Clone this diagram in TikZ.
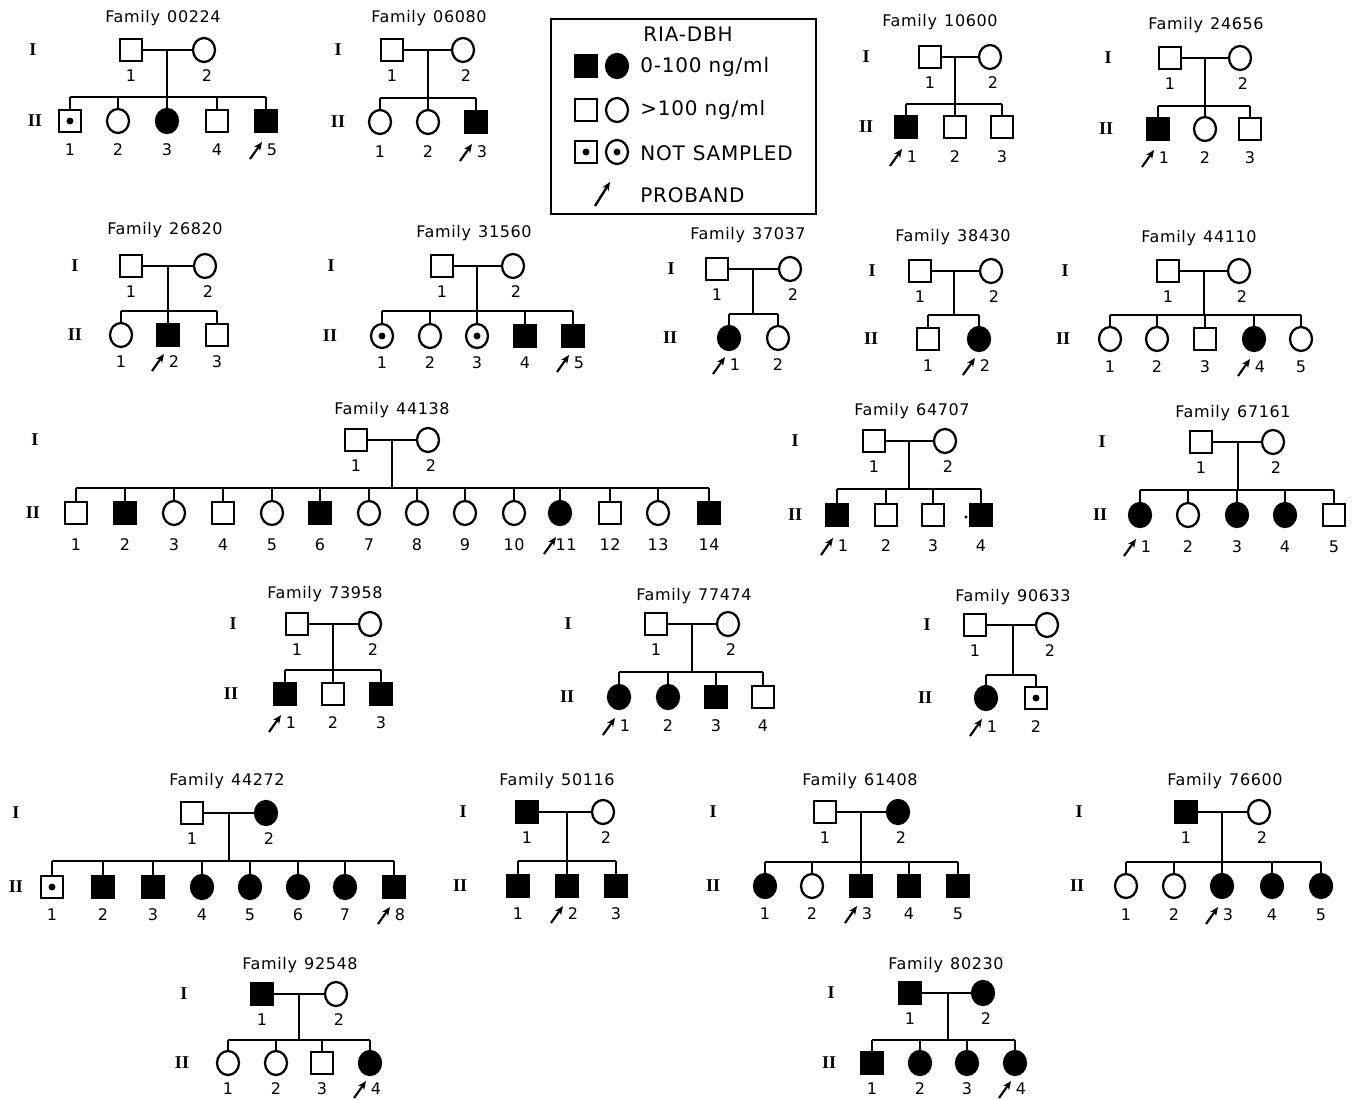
\documentclass[tikz,border=0pt]{standalone}
\usepackage{fontspec}
\setmainfont{DejaVu Sans}
\newfontfamily\labfont[LetterSpace=4]{DejaVu Sans}
\newfontfamily\romfont{Liberation Serif}
\usetikzlibrary{shapes.geometric,arrows.meta}

\tikzset{
  lw/.style={line width=1.7pt},
  sym/.style={draw, lw, inner sep=0pt, outer sep=0pt},
  sqO/.style={sym, rectangle, minimum width=16.5pt, minimum height=17pt},
  sqF/.style={sqO, fill=black},
  sqD/.style={sqO, path picture={\fill (path picture bounding box.center) circle (2.6pt);}},
  ciO/.style={sym, ellipse, minimum width=16.5pt, minimum height=18pt},
  ciF/.style={ciO, fill=black},
  ciD/.style={ciO, path picture={\fill (path picture bounding box.center) circle (2.6pt);}},
  conn/.style={lw},
  num/.style={font=\labfont\fontsize{12}{14}\selectfont, inner sep=0pt},
  ftitle/.style={font=\labfont\fontsize{12}{14}\selectfont, inner sep=0pt},
  gen/.style={font=\romfont\bfseries\fontsize{13.5}{14}\selectfont, inner sep=0pt},
  legtext/.style={font=\labfont\fontsize{15}{17}\selectfont, inner sep=0pt},
  prob/.style={line width=1.6pt, -{Stealth[length=6.5pt,width=5.5pt]}},
}

% #1 id, #2 family number, #3 title position, #4 label x, #5 parent y, #6 father x, #7 mother x, #8 father style, #9 mother style
\newcommand\parents[9]{%
  \node[ftitle] (#1t) at (#3) {Family\hspace{0.45em}#2};
  \node[gen] (#1gA) at (#4,#5) {I};
  \node[#8] (#1f) at (#6,#5) {};
  \node[#9] (#1m) at (#7,#5) {};
  \node[num] (#1fn) at (#6,#5+26) {1};
  \node[num] (#1mn) at (#7+3,#5+26) {2};
  \draw[conn] (#1f.east) -- (#1m.west);
}
% #1 id, #2 drop x, #3 parent y, #4 sibship y, #5 child y, #6 number y, #7 label x, #8 list x/style/proband
\newcommand\kids[8]{%
  \coordinate (#1top) at (#2,#3);
  \coordinate (#1sib) at (#2,#4);
  \draw[conn] (#1top) -- (#1sib);
  \node[gen] (#1gB) at (#7,#5) {II};
  \foreach \x/\s/\p [count=\i] in {#8} {
    \node[\s] (#1c\i) at (\x,#5) {};
    \draw[conn] (#1c\i |- #1sib) -- (#1c\i.north);
    \ifnum\p=1
      \node[num] (#1n\i) at (\x+6,#6) {\i};
      \draw[prob] (\x-16,#6+9) -- (\x-4,#6-8);
    \else
      \node[num] (#1n\i) at (\x,#6) {\i};
    \fi
    \xdef\lastkid{\i}
  }
  \draw[conn] (#1c1 |- #1sib) -- (#1c\lastkid |- #1sib);
}

\begin{document}
\begin{tikzpicture}[x=0.75pt,y=-0.75pt]
\fill[white] (0,0) rectangle (1352,1099);
\useasboundingbox (0,0) rectangle (1352,1099);

% legend
\node[draw, line width=1.7pt, inner sep=0pt, minimum width=198.75pt, minimum height=146.25pt] (legbox) at (683.5,116.5) {};
\node[legtext] (legtitle) at (688,34) {RIA-DBH};
\node[sqF] (lg1a) at (586,66) {};
\node[ciF] (lg1b) at (617,66) {};
\node[legtext, anchor=west] (lg1t) at (640,67) {0-100 ng/ml};
\node[sqO] (lg2a) at (586,110) {};
\node[ciO] (lg2b) at (617,110) {};
\node[legtext, anchor=west] (lg2t) at (640,110) {>100 ng/ml};
\node[sqD] (lg3a) at (586,152) {};
\node[ciD] (lg3b) at (617,152) {};
\node[legtext, anchor=west] (lg3t) at (640,153) {NOT\hspace{0.4em}SAMPLED};
\draw[prob, line width=1.8pt] (595,206) -- (610,182);
\node[legtext, anchor=west] (lg4t) at (640,195) {PROBAND};

% 00224
\parents{A}{00224}{163,18}{33}{50}{131}{204}{sqO}{ciO}
\kids{A}{167}{50}{97}{121}{150}{35}{70/sqD/0,118/ciO/0,167/ciF/0,217/sqO/0,266/sqF/1}
% 06080
\parents{B}{06080}{429,18}{338}{50}{392}{463}{sqO}{ciO}
\kids{B}{428}{50}{98}{122}{152}{338}{380/ciO/0,428/ciO/0,476/sqF/1}
% 10600
\parents{C}{10600}{940,22}{866}{57}{930}{990}{sqO}{ciO}
\kids{C}{955}{57}{104}{127}{157}{866}{906/sqF/1,955/sqO/0,1002/sqO/0}
% 24656
\parents{D}{24656}{1206,25}{1108}{58}{1170}{1240}{sqO}{ciO}
\kids{D}{1205}{58}{106}{129}{158}{1106}{1158/sqF/1,1205/ciO/0,1250/sqO/0}
% 26820
\parents{E}{26820}{165,230}{75}{266}{131}{205}{sqO}{ciO}
\kids{E}{168}{266}{311}{335}{362}{75}{121/ciO/0,168/sqF/1,217/sqO/0}
% 31560
\parents{F}{31560}{474,233}{331}{266}{442}{513}{sqO}{ciO}
\kids{F}{477}{266}{311}{336}{363}{330}{382/ciD/0,430/ciO/0,477/ciD/0,525/sqF/0,573/sqF/1}
% 37037
\parents{G}{37037}{748,235}{671}{269}{717}{790}{sqO}{ciO}
\kids{G}{753}{269}{314}{338}{365}{670}{729/ciF/1,778/ciO/0}
% 38430
\parents{H}{38430}{953,237}{872}{271}{920}{991}{sqO}{ciO}
\kids{H}{954}{271}{315}{339}{366}{871}{928/sqO/0,979/ciF/1}
% 44110
\parents{I}{44110}{1199,238}{1065}{271}{1168}{1239}{sqO}{ciO}
\kids{I}{1204}{271}{315}{339}{367}{1063}{1110/ciO/0,1157/ciO/0,1205/sqO/0,1254/ciF/1,1301/ciO/0}
% 44138
\parents{J}{44138}{392,410}{35}{440}{356}{428}{sqO}{ciO}
\kids{J}{392}{440}{488}{513}{545}{33}{76/sqO/0,125/sqF/0,174/ciO/0,223/sqO/0,272/ciO/0,320/sqF/0,369/ciO/0,417/ciO/0,465/ciO/0,514/ciO/0,560/ciF/1,610/sqO/0,658/ciO/0,709/sqF/0}
% 64707
\parents{K}{64707}{912,411}{795}{441}{874}{945}{sqO}{ciO}
\kids{K}{909}{441}{489}{515}{546}{795}{837/sqF/1,886/sqO/0,933/sqO/0,981/sqF/0}
\fill (966,517) circle (1.2pt);
% 67161
\parents{L}{67161}{1233,413}{1102}{442}{1201}{1273}{sqO}{ciO}
\kids{L}{1238}{442}{490}{515}{547}{1100}{1140/ciF/1,1188/ciO/0,1237/ciF/0,1285/ciF/0,1334/sqO/0}
% 73958
\parents{M}{73958}{325,594}{233}{624}{297}{370}{sqO}{ciO}
\kids{M}{333}{624}{670}{694}{723}{231}{285/sqF/1,333/sqO/0,381/sqF/0}
% 77474
\parents{N}{77474}{694,596}{568}{624}{656}{728}{sqO}{ciO}
\kids{N}{692}{624}{672}{697}{726}{567}{619/ciF/1,668/ciF/0,716/sqF/0,763/sqO/0}
% 90633
\parents{O}{90633}{1013,597}{927}{625}{975}{1047}{sqO}{ciO}
\kids{O}{1013}{625}{675}{698}{727}{925}{986/ciF/1,1036/sqD/0}
% 44272
\parents{P}{44272}{227,781}{16}{813}{192}{266}{sqO}{ciF}
\kids{P}{229}{813}{861}{887}{915}{16}{52/sqD/0,103/sqF/0,153/sqF/0,202/ciF/0,250/ciF/0,298/ciF/0,345/ciF/0,394/sqF/1}
% 50116
\parents{Q}{50116}{557,781}{463}{812}{527}{603}{sqF}{ciO}
\kids{Q}{567}{812}{861}{886}{914}{460}{518/sqF/0,567/sqF/1,616/sqF/0}
% 61408
\parents{R}{61408}{860,781}{713}{812}{825}{898}{sqO}{ciF}
\kids{R}{861}{812}{862}{886}{914}{713}{765/ciF/0,812/ciO/0,861/sqF/1,909/sqF/0,958/sqF/0}
% 76600
\parents{S}{76600}{1225,781}{1079}{812}{1186}{1259}{sqF}{ciO}
\kids{S}{1222}{812}{862}{886}{915}{1077}{1126/ciO/0,1174/ciO/0,1222/ciF/1,1272/ciF/0,1321/ciF/0}
% 92548
\parents{T}{92548}{300,965}{184}{994}{262}{336}{sqF}{ciO}
\kids{T}{299}{994}{1040}{1063}{1089}{182}{228/ciO/0,276/ciO/0,322/sqO/0,370/ciF/1}
% 80230
\parents{U}{80230}{946,965}{831}{993}{910}{983}{sqF}{ciF}
\kids{U}{948}{993}{1040}{1063}{1089}{829}{872/sqF/0,920/ciF/0,967/ciF/0,1015/ciF/1}
\end{tikzpicture}
\end{document}
